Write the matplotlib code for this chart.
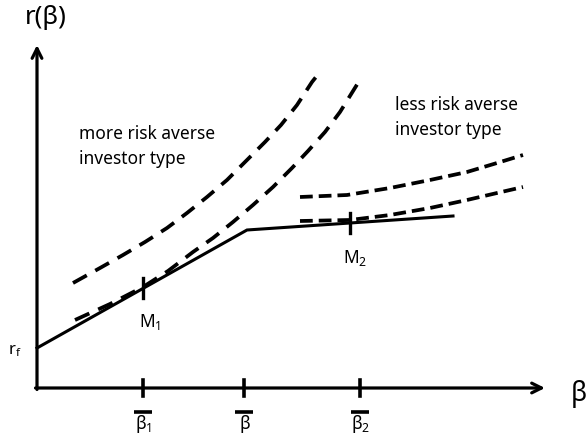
import matplotlib
matplotlib.use("Agg")
import matplotlib.pyplot as plt

plt.rcParams['font.family'] = ['Noto Sans', 'DejaVu Sans']
plt.rcParams['mathtext.fontset'] = 'custom'
plt.rcParams['mathtext.rm'] = 'Noto Sans'
plt.rcParams['mathtext.it'] = 'Noto Sans'

# values (beta on x, expected return on y)
rf = 0.40
kink_beta = [0.0, 2.10, 4.16]
kink_r = [0.40, 1.58, 1.72]

more_outer_beta = [0.36, 0.63, 0.86, 1.08, 1.30, 1.50, 1.70, 1.90, 2.10, 2.28, 2.44, 2.60, 2.75, 2.79]
more_outer_r = [1.05, 1.20, 1.33, 1.46, 1.60, 1.75, 1.91, 2.08, 2.28, 2.46, 2.63, 2.83, 3.06, 3.11]

more_inner_beta = [0.38, 0.73, 1.06, 1.31, 1.56, 1.76, 1.96, 2.16, 2.36, 2.55, 2.71, 2.88, 3.03, 3.21]
more_inner_r = [0.68, 0.84, 1.01, 1.17, 1.36, 1.50, 1.66, 1.83, 2.01, 2.20, 2.37, 2.56, 2.76, 3.05]

less_outer_beta = [2.63, 3.10, 3.53, 3.93, 4.30, 4.60, 4.86]
less_outer_r = [1.91, 1.93, 2.00, 2.08, 2.16, 2.25, 2.33]

less_inner_beta = [2.63, 3.13, 3.53, 3.93, 4.30, 4.60, 4.86]
less_inner_r = [1.67, 1.68, 1.73, 1.80, 1.88, 1.95, 2.01]

tick_beta = [1.06, 2.07, 3.23]
tick_labels = [r'$\mathregular{\beta_1}$', r'$\mathregular{\beta}$', r'$\mathregular{\beta_2}$']

market_beta = [1.06, 3.13]
market_r = [1.00, 1.65]
market_labels = [r'M$_\mathregular{1}$', r'M$_\mathregular{2}$']

fig = plt.figure(figsize=(5.86, 4.36), dpi=100)
ax = fig.add_axes([0, 0, 1, 1])
ax.set_xlim(-0.37, 5.49)
ax.set_ylim(-0.48, 3.88)
ax.axis('off')

# axes with open arrow heads
arrow = dict(arrowstyle='->,head_length=0.7,head_width=0.35', lw=2.3, color='black',
             shrinkA=0, shrinkB=0)
ax.annotate('', xy=(0, 3.43), xytext=(0, -0.015), arrowprops=arrow)
ax.annotate('', xy=(5.08, 0), xytext=(-0.015, 0), arrowprops=arrow)

ax.text(0.085, 3.70, 'r(β)', fontsize=18.5, ha='center', va='center')
ax.text(5.42, -0.06, 'β', fontsize=19, ha='center', va='center')
ax.text(-0.22, 0.37, r'r$_\mathregular{f}$', fontsize=12, ha='center', va='center')

# kinked frontier
ax.plot(kink_beta, kink_r, color='black', lw=2.2, solid_joinstyle='miter')

dash_long = (0, (4.2, 2.6))
dash_short = (0, (3.4, 1.6))
ax.plot(more_outer_beta, more_outer_r, color='black', lw=2.7, linestyle=dash_long)
ax.plot(more_inner_beta, more_inner_r, color='black', lw=2.7, linestyle=dash_long)
ax.plot(less_outer_beta, less_outer_r, color='black', lw=2.7, linestyle=dash_short)
ax.plot(less_inner_beta, less_inner_r, color='black', lw=2.7, linestyle=dash_short)

# market portfolio markers
for b, r in zip(market_beta, market_r):
    ax.plot([b, b], [r - 0.10, r + 0.10], color='black', lw=2.4)
ax.text(market_beta[0] + 0.07, market_r[0] - 0.34, market_labels[0], fontsize=12.5,
        ha='center', va='center')
ax.text(market_beta[1] + 0.05, market_r[1] - 0.35, market_labels[1], fontsize=12.5,
        ha='center', va='center')

# x ticks with overbars
for b, lab in zip(tick_beta, tick_labels):
    ax.plot([b, b], [-0.08, 0.08], color='black', lw=2.6)
    ax.plot([b - 0.09, b + 0.09], [-0.24, -0.24], color='black', lw=2.6,
            solid_capstyle='butt')
    ax.text(b + 0.01, -0.355, lab, fontsize=12.5, ha='center', va='center')

ax.text(0.42, 2.415, 'more risk averse\ninvestor type', fontsize=12.5,
        ha='left', va='center', linespacing=1.45)
ax.text(3.58, 2.705, 'less risk averse\ninvestor type', fontsize=12.5,
        ha='left', va='center', linespacing=1.45)

fig.savefig('out.png', dpi=100, facecolor='white')
